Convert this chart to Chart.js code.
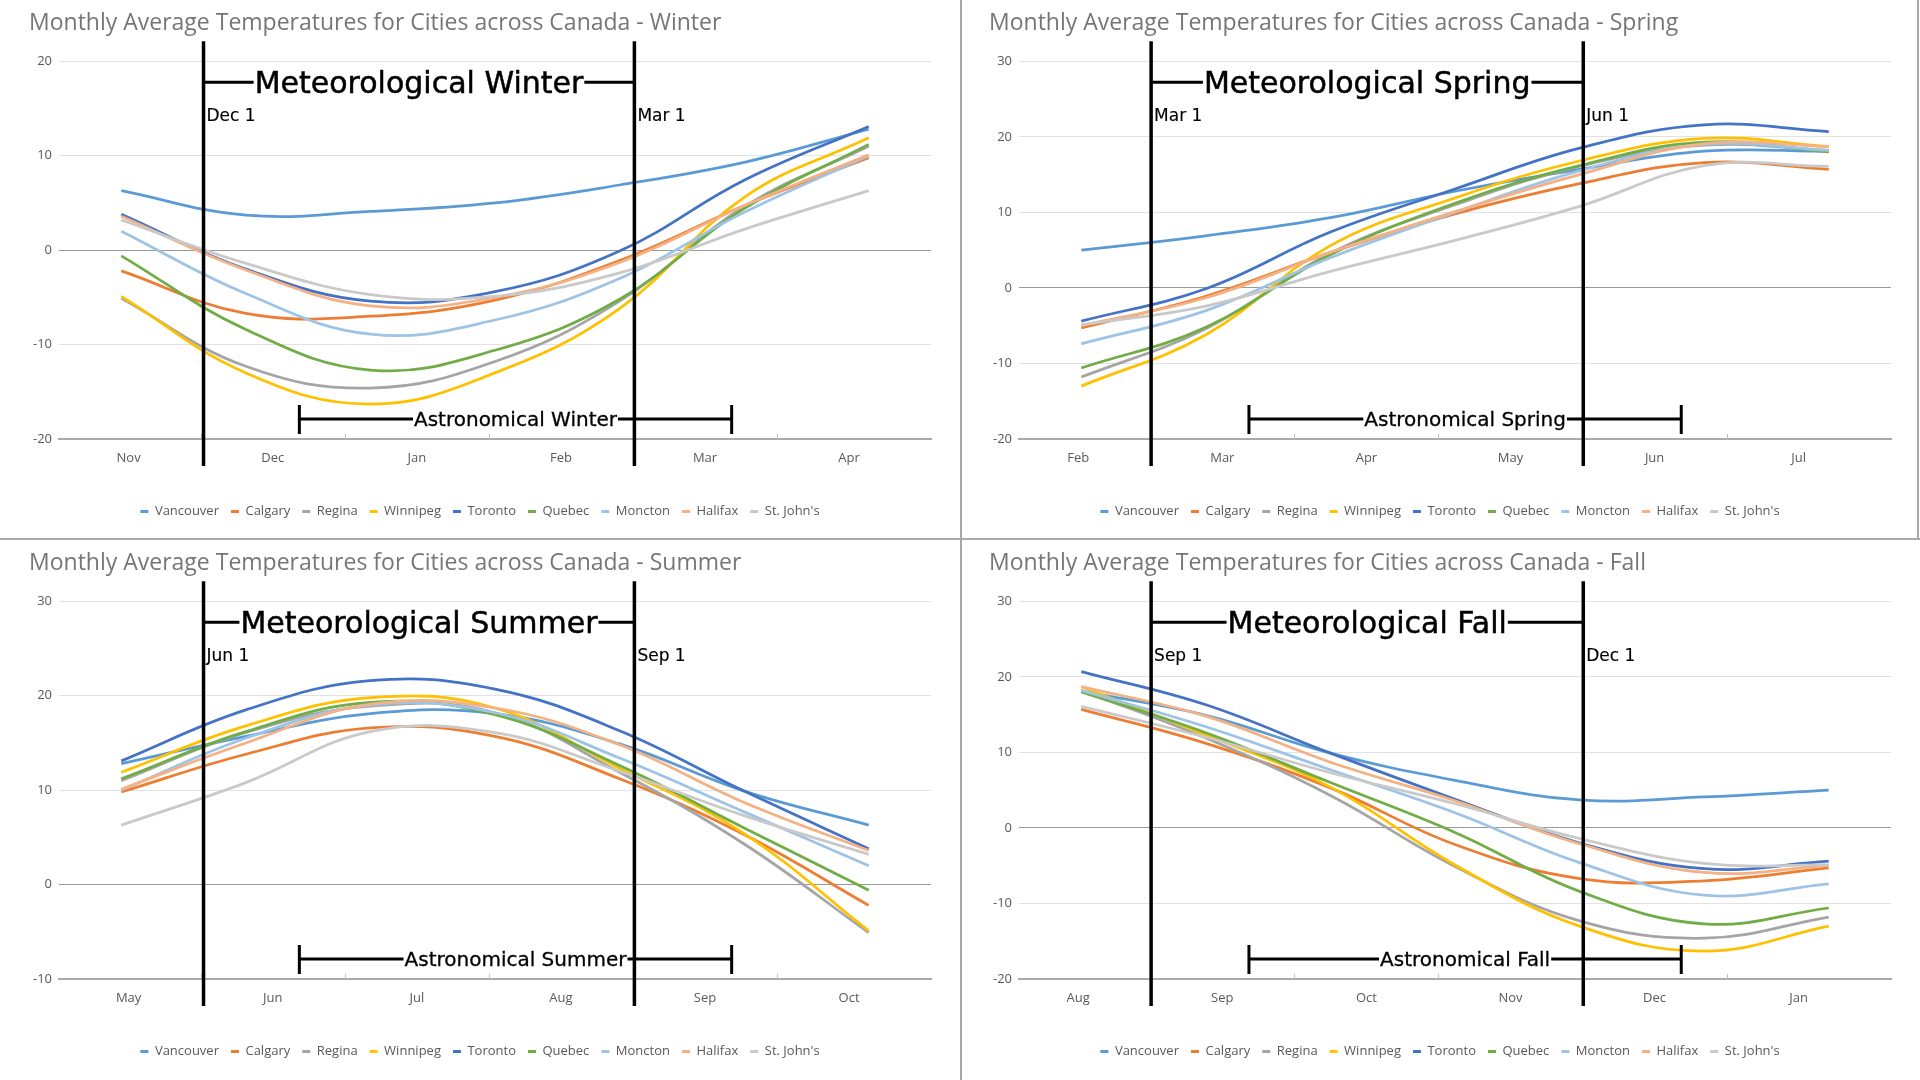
<!DOCTYPE html>
<html lang="en">
<head>
  <meta charset="UTF-8">
  <title>Monthly Average Temperatures for Cities across Canada</title>
  <script src="https://cdn.jsdelivr.net/npm/chart.js"></script>
  <style>
    body { margin: 0; background: #fff; }
    #board { position: relative; width: 1920px; height: 1080px; overflow: hidden; }
    .panel { position: absolute; width: 960px; height: 540px; }
    .rule { position: absolute; background: #a8a8a8; }
  </style>
</head>
<body>
  <div id="board">
    <div class="panel" style="left:0;top:0"><canvas id="winter" width="960" height="540"></canvas></div>
    <div class="panel" style="left:960px;top:0"><canvas id="spring" width="960" height="540"></canvas></div>
    <div class="panel" style="left:0;top:540px"><canvas id="summer" width="960" height="540"></canvas></div>
    <div class="panel" style="left:960px;top:540px"><canvas id="fall" width="960" height="540"></canvas></div>
    <!-- panel dividers -->
    <div class="rule" style="left:960px;top:0;width:2px;height:1080px"></div>
    <div class="rule" style="left:0;top:538px;width:1920px;height:2px"></div>
    <div class="rule" style="left:1917px;top:0;width:2px;height:540px"></div>
  </div>

  <script>
    // monthly averages, Jan..Dec (°C)
    const months = ['Jan', 'Feb', 'Mar', 'Apr', 'May', 'Jun', 'Jul', 'Aug', 'Sep', 'Oct', 'Nov', 'Dec'];
    const vancouver = [4.1, 5.0, 6.9, 9.3, 12.8, 15.7, 18.1, 18.1, 14.9, 9.9, 6.3, 3.7];
    const calgary   = [-7.0, -5.3, -1.1, 4.7, 9.8, 13.8, 16.6, 15.7, 11.2, 5.3, -2.2, -6.7];
    const regina    = [-14.6, -11.8, -5.4, 4.6, 11.0, 16.1, 18.9, 18.2, 11.9, 4.3, -5.1, -12.3];
    const winnipeg  = [-16.3, -13.0, -6.2, 5.6, 11.9, 16.8, 19.8, 18.7, 12.3, 5.4, -4.9, -13.0];
    const toronto   = [-5.4, -4.4, -0.1, 7.4, 13.1, 18.5, 21.6, 20.7, 16.3, 9.9, 3.8, -2.0];
    const quebec    = [-12.7, -10.6, -5.2, 4.4, 11.2, 16.2, 19.3, 18.0, 12.6, 6.0, -0.6, -8.4];
    const moncton   = [-8.9, -7.4, -3.0, 4.0, 10.0, 15.5, 19.0, 18.2, 13.4, 7.7, 2.0, -4.6];
    const halifax   = [-5.9, -5.0, -1.3, 4.7, 10.1, 15.0, 19.1, 18.7, 14.8, 8.7, 3.6, -2.1];
    const stJohns   = [-4.7, -4.9, -2.4, 2.2, 6.3, 10.8, 16.2, 16.1, 12.0, 7.3, 3.2, -1.4];

    const cities = [
      { name: 'Vancouver', temps: vancouver, color: '#5B9BD5' },
      { name: 'Calgary', temps: calgary, color: '#ED7D31' },
      { name: 'Regina', temps: regina, color: '#A5A5A5' },
      { name: 'Winnipeg', temps: winnipeg, color: '#FFC000' },
      { name: 'Toronto', temps: toronto, color: '#4472C4' },
      { name: 'Quebec', temps: quebec, color: '#70AD47' },
      { name: 'Moncton', temps: moncton, color: '#9DC3E6' },
      { name: 'Halifax', temps: halifax, color: '#F4B183' },
      { name: "St. John's", temps: stJohns, color: '#C9C9C9' }
    ];

    // axis tick labels shown under each chart
    const winterTicks = ['Nov', 'Dec', 'Jan', 'Feb', 'Mar', 'Apr'];
    const springTicks = ['Feb', 'Mar', 'Apr', 'May', 'Jun', 'Jul'];
    const summerTicks = ['May', 'Jun', 'Jul', 'Aug', 'Sep', 'Oct'];
    const fallTicks   = ['Aug', 'Sep', 'Oct', 'Nov', 'Dec', 'Jan'];

    const panels = [
      { canvas: 'winter', season: 'Winter', first: 10, ticks: winterTicks, yMin: -20, yMax: 20, from: 'Dec 1', to: 'Mar 1', right: false },
      { canvas: 'spring', season: 'Spring', first: 1, ticks: springTicks, yMin: -20, yMax: 30, from: 'Mar 1', to: 'Jun 1', right: true },
      { canvas: 'summer', season: 'Summer', first: 4, ticks: summerTicks, yMin: -10, yMax: 30, from: 'Jun 1', to: 'Sep 1', right: false },
      { canvas: 'fall', season: 'Fall', first: 7, ticks: fallTicks, yMin: -20, yMax: 30, from: 'Sep 1', to: 'Dec 1', right: true }
    ];

    const annFont = '"DejaVu Sans", sans-serif';

    // black season brackets drawn over the lines
    const seasonMarks = {
      id: 'seasonMarks',
      afterDatasetsDraw(chart, args, opts) {
        const { ctx, chartArea: { top, bottom } } = chart;
        const xs = chart.scales.x2;
        const seg = (x1, y1, x2, y2) => { ctx.beginPath(); ctx.moveTo(x1, y1); ctx.lineTo(x2, y2); ctx.stroke(); };
        const text = (str, x, y, w) => { ctx.lineWidth = w; ctx.strokeText(str, x, y); ctx.fillText(str, x, y); };
        ctx.save();

        // small tick marks between month labels
        ctx.strokeStyle = '#bfbfbf';
        ctx.lineWidth = 1;
        for (let i = 0; i < 5; i++) {
          const x = Math.round(xs.getPixelForValue(i + 0.5)) + 0.5;
          seg(x, bottom - 5, x, bottom);
        }

        const a = xs.getPixelForValue(opts.lines[0]);
        const b = xs.getPixelForValue(opts.lines[1]);
        ctx.strokeStyle = '#000';
        ctx.fillStyle = '#000';
        ctx.lineWidth = 3.5;
        seg(a, top - 20, a, bottom + 27);
        seg(b, top - 20, b, bottom + 27);

        // meteorological season
        ctx.lineWidth = 3;
        ctx.font = '30px ' + annFont;
        const my = top + 21;
        const mw = ctx.measureText(opts.met).width;
        const mc = (a + b) / 2;
        seg(a, my, mc - mw / 2 - 1, my);
        seg(mc + mw / 2 + 1, my, b, my);
        ctx.textAlign = 'center';
        ctx.textBaseline = 'alphabetic';
        text(opts.met, mc, my + 11, 0.5);

        ctx.font = '17px ' + annFont;
        ctx.textAlign = 'left';
        text(opts.from, a + 3, top + 59.5, 0.15);
        text(opts.to, b + 3, top + 59.5, 0.15);

        // astronomical season
        const s = xs.getPixelForValue(1.185);
        const e = xs.getPixelForValue(4.185);
        const ay = bottom - 20;
        ctx.font = '20px ' + annFont;
        const aw = ctx.measureText(opts.astro).width;
        const ac = (s + e) / 2;
        ctx.lineWidth = 3;
        seg(s, ay, ac - aw / 2 - 1, ay);
        seg(ac + aw / 2 + 1, ay, e, ay);
        seg(s, ay - 14, s, ay + 15);
        seg(e, ay - 14, e, ay + 15);
        ctx.textAlign = 'center';
        text(opts.astro, ac, ay + 7, 0.3);
        ctx.restore();
      }
    };

    Chart.defaults.font.family = '"Open Sans", sans-serif';
    Chart.defaults.color = '#595959';

    panels.forEach(p => {
      const span = [];
      for (let k = 0; k < 7; k++) span.push((p.first + k) % 12);

      // label axis range so month names sit where the original ones are
      const x0 = p.right ? 118.2 : 128.6;
      const labelMin = (59 - x0) / 144.1;
      const labelMax = (931 - x0) / 144.1;

      new Chart(document.getElementById(p.canvas), {
        type: 'line',
        data: {
          labels: span.map(m => months[m]),
          datasets: cities.map((c, i) => ({
            label: c.name,
            data: span.map(m => c.temps[m]),
            borderColor: c.color,
            backgroundColor: c.color,
            borderWidth: 2.75,
            pointRadius: 0,
            tension: 0.4,
            order: cities.length - i
          }))
        },
        options: {
          responsive: false,
          animation: false,
          devicePixelRatio: 1,
          layout: { padding: { left: 29, right: 29, top: 0, bottom: 12 } },
          scales: {
            x: { type: 'category', offset: true, display: false },
            x2: {
              type: 'linear',
              position: 'bottom',
              min: labelMin,
              max: labelMax,
              afterBuildTicks: axis => { axis.ticks = p.ticks.map((t, i) => ({ value: i })); },
              afterFit: axis => { axis.height = 54; },
              grid: { display: false },
              border: { color: '#ababab', width: 2 },
              ticks: {
                autoSkip: false,
                maxRotation: 0,
                padding: 3,
                font: { size: 13 },
                color: '#595959',
                callback: v => p.ticks[v]
              }
            },
            y: {
              min: p.yMin,
              max: p.yMax,
              afterFit: axis => { axis.width = 30; },
              border: { display: false },
              grid: {
                drawTicks: false,
                color: c => c.tick.value === 0 ? '#9a9a9a' : (c.tick.value === p.yMin ? '#ababab' : '#e2e2e2')
              },
              ticks: { stepSize: 10, padding: 7, font: { size: 13 }, color: '#595959' }
            }
          },
          plugins: {
            title: {
              display: true,
              text: 'Monthly Average Temperatures for Cities across Canada - ' + p.season,
              align: 'start',
              color: '#767676',
              font: { size: 23, weight: 'normal' },
              padding: { top: 9.2, bottom: 24.5 }
            },
            legend: {
              position: 'bottom',
              labels: {
                boxWidth: 8,
                boxHeight: 3,
                padding: 12,
                font: { size: 13 },
                color: '#595959',
                sort: (a, b) => a.datasetIndex - b.datasetIndex,
                generateLabels: chart => Chart.defaults.plugins.legend.labels.generateLabels(chart)
                  .map(l => Object.assign(l, { lineWidth: 0 }))
              }
            },
            tooltip: { enabled: false },
            seasonMarks: {
              met: 'Meteorological ' + p.season,
              astro: 'Astronomical ' + p.season,
              from: p.from,
              to: p.to,
              lines: p.right ? [0.506, 3.505] : [0.52, 3.51]
            }
          }
        },
        plugins: [seasonMarks]
      });
    });
  </script>
</body>
</html>
